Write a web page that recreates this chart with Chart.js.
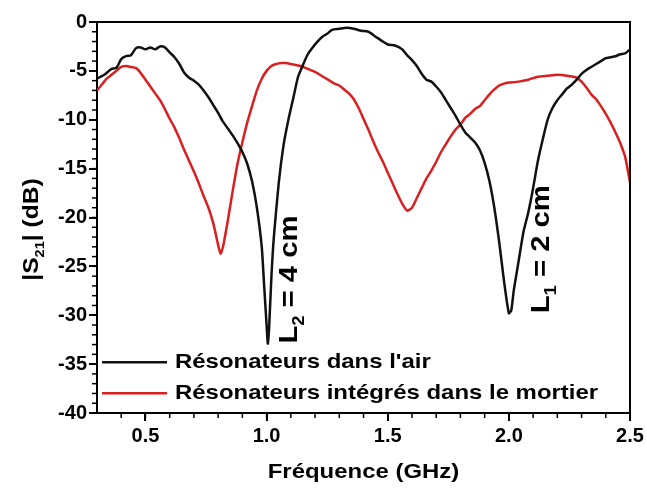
<!DOCTYPE html>
<html lang="fr">
<head>
<meta charset="UTF-8">
<title>|S21| resonateurs</title>
<style>
  body { margin: 0; background: #fff; }
  #wrap { width: 647px; height: 488px; }
</style>
</head>
<body>
<div id="wrap"><canvas id="c" width="647" height="488"></canvas></div>
<script src="https://cdn.jsdelivr.net/npm/chart.js@4.4.1/dist/chart.umd.min.js"></script>
<script>
// --- data ---
const freqAir = [0.30,0.33,0.36,0.38,0.40,0.42,0.44,0.46,0.48,0.50,0.52,0.54,0.56,0.58,0.60,0.62,0.64,0.66,0.68,0.70,
  0.72,0.74,0.76,0.78,0.80,0.82,0.84,0.86,0.88,0.90,0.92,0.94,0.96,0.98,0.99,1.00,1.005,1.01,1.02,1.03,1.05,1.07,1.09,
  1.11,1.13,1.15,1.17,1.19,1.21,1.23,1.25,1.27,1.30,1.33,1.36,1.39,1.42,1.45,1.48,1.50,1.53,1.56,1.58,1.60,1.62,1.64,
  1.66,1.68,1.70,1.72,1.74,1.76,1.78,1.80,1.82,1.84,1.86,1.88,1.90,1.92,1.94,1.96,1.98,2.00,2.01,2.02,2.04,2.06,2.08,
  2.10,2.12,2.14,2.16,2.18,2.20,2.22,2.24,2.26,2.28,2.30,2.32,2.34,2.36,2.38,2.40,2.42,2.44,2.46,2.48,2.50];
const s21Air = [-5.8,-5.4,-4.8,-4.7,-3.8,-3.5,-3.4,-2.7,-2.6,-2.8,-2.6,-2.8,-2.5,-2.6,-3.1,-3.6,-4.3,-5.2,-5.7,-6.0,
  -6.4,-7.0,-7.7,-8.5,-9.3,-10.2,-10.9,-11.6,-12.4,-13.3,-14.5,-16.3,-19.0,-23.0,-27.0,-31.0,-32.9,-31.5,-26.0,-22.0,-16.5,-12.6,-10.0,
  -7.8,-5.6,-4.4,-3.3,-2.6,-2.0,-1.5,-1.2,-0.8,-0.7,-0.6,-0.7,-0.9,-1.0,-1.5,-2.0,-2.3,-2.4,-2.8,-3.4,-3.9,-4.5,-5.3,
  -5.9,-6.1,-6.6,-7.2,-8.0,-8.8,-9.6,-10.5,-11.3,-11.8,-12.3,-13.1,-14.4,-16.3,-19.0,-22.5,-26.5,-29.8,-29.5,-27.5,-24.5,-21.5,-19.5,
  -17.0,-14.2,-12.0,-10.0,-8.8,-8.0,-7.4,-6.8,-6.4,-5.9,-5.3,-4.9,-4.6,-4.3,-4.0,-3.7,-3.6,-3.5,-3.3,-3.2,-2.8];

const freqMortar = [0.30,0.32,0.34,0.36,0.38,0.40,0.42,0.44,0.46,0.48,0.50,0.52,0.54,0.56,0.58,0.60,0.62,0.64,0.66,0.68,
  0.70,0.72,0.74,0.76,0.78,0.80,0.81,0.82,0.84,0.86,0.88,0.90,0.92,0.94,0.96,0.98,1.00,1.02,1.04,1.06,1.08,1.10,1.12,
  1.14,1.16,1.18,1.20,1.22,1.24,1.26,1.28,1.30,1.32,1.34,1.36,1.38,1.40,1.42,1.44,1.46,1.48,1.50,1.52,1.54,1.56,1.58,
  1.60,1.62,1.64,1.66,1.68,1.70,1.72,1.74,1.76,1.78,1.80,1.82,1.84,1.86,1.88,1.90,1.92,1.94,1.96,1.98,2.00,2.04,2.08,
  2.12,2.16,2.20,2.24,2.28,2.30,2.32,2.34,2.36,2.38,2.40,2.42,2.44,2.46,2.48,2.50];
const s21Mortar = [-7.0,-6.4,-5.8,-5.4,-5.0,-4.6,-4.5,-4.6,-4.7,-5.2,-5.9,-6.6,-7.3,-8.0,-8.9,-9.9,-10.8,-11.9,-13.1,-14.2,
  -15.3,-16.5,-17.8,-19.0,-20.6,-22.8,-23.7,-23.0,-20.3,-17.3,-14.5,-12.3,-10.3,-8.6,-7.0,-5.8,-5.0,-4.5,-4.3,-4.2,-4.2,-4.3,-4.4,
  -4.5,-4.7,-4.9,-5.1,-5.4,-5.7,-6.0,-6.3,-6.5,-6.9,-7.3,-7.9,-8.8,-9.9,-11.0,-12.2,-13.3,-14.3,-15.4,-16.5,-17.6,-18.6,-19.3,
  -19.0,-18.0,-17.0,-16.0,-15.2,-14.3,-13.3,-12.5,-11.7,-11.0,-10.5,-9.8,-9.4,-8.9,-8.6,-8.0,-7.4,-6.9,-6.5,-6.3,-6.2,-6.1,-5.9,
  -5.6,-5.5,-5.4,-5.5,-5.7,-6.1,-6.7,-7.4,-7.9,-8.6,-9.4,-10.3,-11.3,-12.4,-13.8,-16.4];

const seriesLabels = ["Résonateurs dans l'air", 'Résonateurs intégrés dans le mortier'];
const seriesColors = ['#111111', '#d91f1f'];
const xTicks = [0.5, 1.0, 1.5, 2.0, 2.5];
const yTicks = [0, -5, -10, -15, -20, -25, -30, -35, -40];
const xTitle = 'Fréquence (GHz)';
// annotations: text pieces + anchor (freq, dB) at the bottom of the rotated text
const notes = [
  { main: 'L', sub: '2', rest: ' = 4 cm', f: 1.125, db: -32.9 },
  { main: 'L', sub: '1', rest: ' = 2 cm', f: 2.165, db: -29.8 }
];

const pts = (xs, ys) => xs.map((x, i) => ({ x: x, y: ys[i] }));
const FONT = 'Liberation Sans, Arial, sans-serif';

const decor = {
  id: 'decor',
  afterDraw(chart) {
    const ctx = chart.ctx, a = chart.chartArea;
    const xs = chart.scales.x, ys = chart.scales.y;
    ctx.save();
    ctx.strokeStyle = '#000';
    ctx.lineWidth = 2;
    // frame top/right
    ctx.beginPath();
    ctx.moveTo(a.left, a.top); ctx.lineTo(a.right, a.top); ctx.lineTo(a.right, a.bottom);
    ctx.stroke();
    // minor ticks
    ctx.lineWidth = 1.5;
    for (let v = 4; v <= 25; v++) {
      const px = xs.getPixelForValue(v / 10);
      ctx.beginPath(); ctx.moveTo(px, a.bottom); ctx.lineTo(px, a.bottom + 5); ctx.stroke();
    }
    for (let v = -40; v <= 0; v++) {
      const py = ys.getPixelForValue(v);
      ctx.beginPath(); ctx.moveTo(a.left, py); ctx.lineTo(a.left - 5, py); ctx.stroke();
    }
    ctx.restore();

    // x title, slightly widened like the original
    ctx.save();
    ctx.fillStyle = '#000';
    ctx.font = 'bold 21px ' + FONT;
    ctx.textAlign = 'center';
    ctx.textBaseline = 'middle';
    ctx.translate((a.left + a.right) / 2, 472);
    ctx.scale(1.14, 1);
    ctx.fillText(xTitle, 0, 0);
    ctx.restore();

    // y title with subscript
    ctx.save();
    ctx.fillStyle = '#000';
    ctx.translate(31, (a.top + a.bottom) / 2 + 12);
    ctx.rotate(-Math.PI / 2);
    ctx.scale(1.12, 1);
    const big = 'bold 22px ' + FONT, small = 'bold 13px ' + FONT;
    ctx.font = big; const w1 = ctx.measureText('|S').width, w3 = ctx.measureText('| (dB)').width;
    ctx.font = small; const w2 = ctx.measureText('21').width;
    const x0 = -(w1 + w2 + w3) / 2;
    ctx.font = big; ctx.fillText('|S', x0, 7);
    ctx.font = small; ctx.fillText('21', x0 + w1, 13);
    ctx.font = big; ctx.fillText('| (dB)', x0 + w1 + w2, 7);
    ctx.restore();

    // annotations (rotated, reading upward)
    notes.forEach(n => {
      ctx.save();
      ctx.fillStyle = '#000';
      ctx.translate(xs.getPixelForValue(n.f), ys.getPixelForValue(n.db));
      ctx.rotate(-Math.PI / 2);
      ctx.scale(1.22, 1.05);
      const fb = 'bold 24px ' + FONT, fs = 'bold 15px ' + FONT;
      ctx.font = fb; ctx.fillText(n.main, 0, 0);
      const wm = ctx.measureText(n.main).width;
      ctx.font = fs; ctx.fillText(n.sub, wm, 7);
      const ws = ctx.measureText(n.sub).width;
      ctx.font = fb; ctx.fillText(n.rest, wm + ws, 0);
      ctx.restore();
    });

    // legend inside plot
    ctx.save();
    ctx.textBaseline = 'middle';
    ctx.fillStyle = '#000';
    chart.data.datasets.forEach((ds, i) => {
      const y = ys.getPixelForValue(-35) + i * 31 - 2;
      ctx.strokeStyle = ds.borderColor;
      ctx.lineWidth = 2.5;
      ctx.beginPath(); ctx.moveTo(a.left + 5, y); ctx.lineTo(a.left + 70, y); ctx.stroke();
      ctx.save();
      ctx.translate(a.left + 78, y);
      ctx.scale(1.14, 1);
      ctx.font = 'bold 21px ' + FONT;
      ctx.fillText(ds.label, 0, 0);
      ctx.restore();
    });
    ctx.restore();
  }
};

new Chart(document.getElementById('c'), {
  type: 'line',
  data: {
    datasets: [
      { label: seriesLabels[0], data: pts(freqAir, s21Air), borderColor: seriesColors[0], borderWidth: 2.5,
        pointRadius: 0, tension: 0.2, fill: false },
      { label: seriesLabels[1], data: pts(freqMortar, s21Mortar), borderColor: seriesColors[1], borderWidth: 2.5,
        pointRadius: 0, tension: 0.2, fill: false }
    ]
  },
  options: {
    responsive: false,
    animation: false,
    layout: { padding: { top: 22, right: 17, left: 0, bottom: 0 } },
    plugins: { legend: { display: false }, tooltip: { enabled: false } },
    scales: {
      x: {
        type: 'linear', min: 0.3, max: 2.5,
        afterBuildTicks: s => { s.ticks = xTicks.map(v => ({ value: v })); },
        afterFit: s => { s.height = 75; },
        ticks: { color: '#000', font: { family: FONT, size: 20, weight: 'bold' }, padding: 3,
          maxRotation: 0, autoSkip: false, callback: v => v.toFixed(1) },
        grid: { drawOnChartArea: false, color: '#000', lineWidth: 2, tickLength: 8 },
        border: { color: '#000', width: 2 }
      },
      y: {
        type: 'linear', min: -40, max: 0,
        afterBuildTicks: s => { s.ticks = yTicks.map(v => ({ value: v })); },
        afterFit: s => { s.width = 97; },
        ticks: { color: '#000', font: { family: FONT, size: 20, weight: 'bold' }, padding: 2, autoSkip: false },
        grid: { drawOnChartArea: false, color: '#000', lineWidth: 2, tickLength: 8 },
        border: { color: '#000', width: 2 }
      }
    }
  },
  plugins: [decor]
});
</script>
</body>
</html>
